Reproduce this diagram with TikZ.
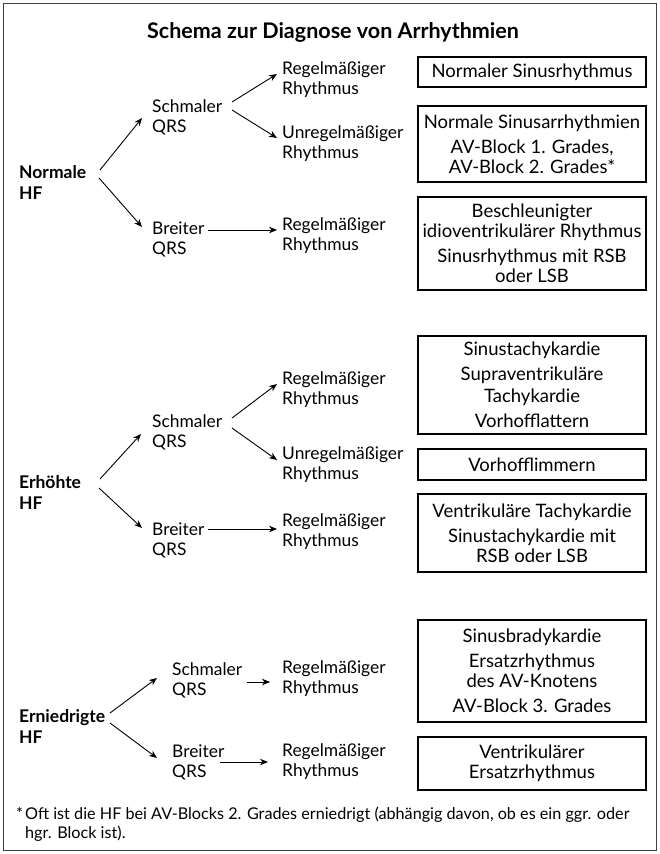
\documentclass[tikz,border=0pt]{standalone}
\usepackage{fontspec}
\setmainfont{Lato}
\usetikzlibrary{arrows.meta}

\begin{document}
\begin{tikzpicture}[
    x=1pt, y=-1pt, % pixel-like units, y grows downward
    >={Stealth[length=8pt, width=6.5pt]}, % default arrow tip
    lbl/.style={anchor=west, align=left, inner sep=0pt, font=\fontsize{17.4}{20}\selectfont},
    hf/.style={lbl, font=\fontsize{17.5}{21}\selectfont\bfseries},
    dx/.style={draw, line width=1.1pt, minimum width=228, align=center, inner sep=0pt,
               font=\fontsize{18.5}{20}\selectfont}, % result boxes
    arr/.style={->, line width=0.9pt}
]

% Frame
\useasboundingbox (0,0) rectangle (660,854);
\draw[line width=1.8pt, black!75] (3.5,3.5) rectangle (656.5,850.5);

% Title
\node[font=\fontsize{21.5}{24}\selectfont\bfseries] (title) at (333,32) {Schema zur Diagnose von Arrhythmien};

% --- Normale HF ---
\node[hf]  (nhf)  at (19,182)  {Normale\\HF};
\node[lbl] (nsq)  at (152,117) {Schmaler\\QRS};
\node[lbl] (nbq)  at (152,239) {Breiter\\QRS};
\node[lbl] (nrr1) at (282,80)  {Regelmäßiger\\Rhythmus};
\node[lbl] (nur)  at (282,144) {Unregelmäßiger\\Rhythmus};
\node[lbl] (nrr2) at (282,236) {Regelmäßiger\\Rhythmus};

\node[dx, minimum height=30] (nbox1) at (532,72) {Normaler Sinusrhythmus};
\node[dx, minimum height=76] (nbox2) at (532,144) {Normale Sinusarrhythmien\\[5pt]AV-Block 1. Grades,\\AV-Block 2. Grades*};
\node[dx, minimum height=93] (nbox3) at (532,243.5) {Beschleunigter\\idioventrikulärer Rhythmus\\[5pt]Sinusrhythmus mit RSB\\oder LSB};

\draw[arr] ([shift={(81,-12)}]nhf.west) -- ([shift={(-10,1)}]nsq.west);
\draw[arr] ([shift={(80,-4)}]nhf.west)  -- ([shift={(-10,-12)}]nbq.west);
\draw[arr] ([shift={(80,-15)}]nsq.west) -- ([shift={(-5,-6)}]nrr1.west);
\draw[arr] ([shift={(80,-7)}]nsq.west)  -- ([shift={(-5,-6)}]nur.west);
\draw[arr] ([shift={(56,-9)}]nbq.west)  -- ([shift={(-5,-6)}]nrr2.west);

% --- Erhoehte HF ---
\node[hf]  (ehf)  at (19,492)  {Erhöhte\\HF};
\node[lbl] (esq)  at (152,432) {Schmaler\\QRS};
\node[lbl] (ebq)  at (152,540) {Breiter\\QRS};
\node[lbl] (err1) at (282,390) {Regelmäßiger\\Rhythmus};
\node[lbl] (eur)  at (282,465) {Unregelmäßiger\\Rhythmus};
\node[lbl] (err2) at (282,532) {Regelmäßiger\\Rhythmus};

\node[dx, minimum height=98] (ebox1) at (532,385) {Sinustachykardie\\[5pt]Supraventrikuläre\\[2pt]Tachykardie\\[5pt]Vorhofflattern};
\node[dx, minimum height=31] (ebox2) at (532,464.5) {Vorhofflimmern};
\node[dx, minimum height=78] (ebox3) at (532,533) {Ventrikuläre Tachykardie\\[5pt]Sinustachykardie mit\\RSB oder LSB};

\draw[arr] ([shift={(81,-13)}]ehf.west) -- ([shift={(-11,2)}]esq.west);
\draw[arr] ([shift={(80,-4)}]ehf.west)  -- ([shift={(-10,-12)}]ebq.west);
\draw[arr] ([shift={(80,-14)}]esq.west) -- ([shift={(-5,-6)}]err1.west);
\draw[arr] ([shift={(80,-4)}]esq.west)  -- ([shift={(-5,-5)}]eur.west);
\draw[arr] ([shift={(56,-11)}]ebq.west) -- ([shift={(-5,-3)}]err2.west);

% --- Erniedrigte HF ---
\node[hf]  (rhf)  at (19,726)  {Erniedrigte\\HF};
\node[lbl] (rsq)  at (172,680) {Schmaler\\QRS};
\node[lbl] (rbq)  at (172,762) {Breiter\\QRS};
\node[lbl] (rrr1) at (282,679) {Regelmäßiger\\Rhythmus};
\node[lbl] (rrr2) at (282,762) {Regelmäßiger\\Rhythmus};

\node[dx, minimum height=102] (rbox1) at (532,671) {Sinusbradykardie\\[5pt]Ersatzrhythmus\\des AV-Knotens\\[5pt]AV-Block 3. Grades};
\node[dx, minimum height=53] (rbox2) at (532,763.5) {Ventrikulärer\\Ersatzrhythmus};

\draw[arr] ([shift={(91,-13)}]rhf.west) -- ([shift={(-15,-2)}]rsq.west);
\draw[arr] ([shift={(91,-3)}]rhf.west)  -- ([shift={(-15,-4)}]rbq.west);
\draw[arr] ([shift={(75,2)}]rsq.west)   -- ([shift={(-12,3)}]rrr1.west);
\draw[arr] ([shift={(48,0)}]rbq.west)   -- ([shift={(-14,0)}]rrr2.west);

% Footnote
\node[anchor=west, align=left, inner sep=0pt, font=\fontsize{16.2}{19}\selectfont] (note) at (16,824)
  {\makebox[9pt][l]{*}Oft ist die HF bei AV-Blocks 2. Grades erniedrigt (abhängig davon, ob es ein ggr. oder\\
   \hspace*{9pt}hgr. Block ist).};

\end{tikzpicture}
\end{document}
